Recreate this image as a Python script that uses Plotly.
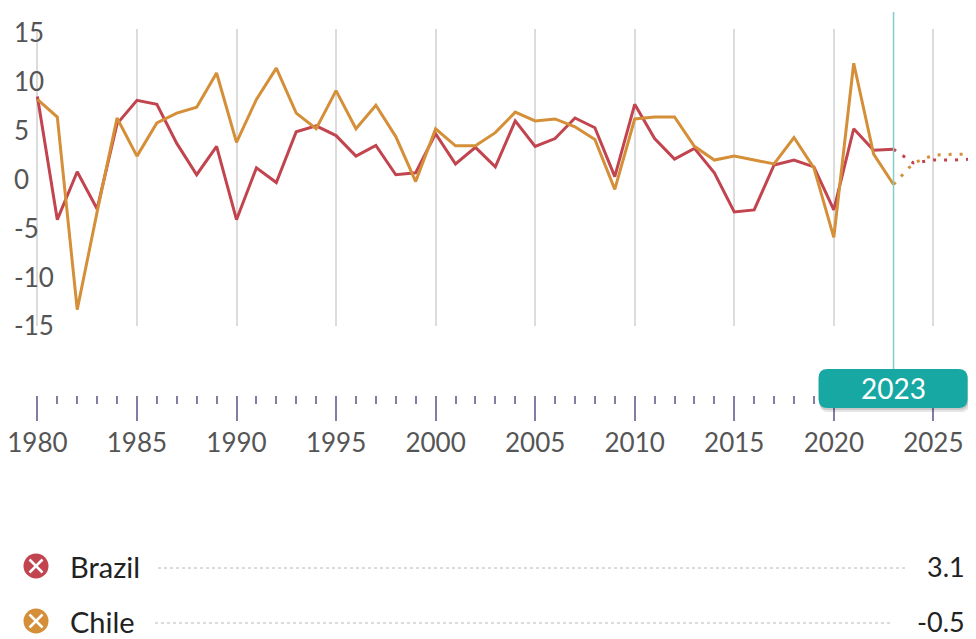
import plotly.graph_objects as go

W, H = 976, 639
OFF = 8  # page body margin offset

# ---------------- data ----------------
years = list(range(1980, 2024))
brazil = [8.5, -4.1, 0.8, -3.0, 5.7, 8.1, 7.7, 3.7, 0.5, 3.4,
          -4.1, 1.2, -0.3, 4.9, 5.5, 4.5, 2.4, 3.5, 0.5, 0.7,
          4.7, 1.6, 3.3, 1.3, 6.0, 3.4, 4.2, 6.3, 5.3, 0.3,
          7.7, 4.2, 2.1, 3.2, 0.7, -3.3, -3.1, 1.5, 2.0, 1.3,
          -3.1, 5.2, 3.0, 3.1]
chile = [8.2, 6.4, -13.3, -3.3, 6.3, 2.4, 5.8, 6.8, 7.4, 10.9,
         3.8, 8.2, 11.4, 6.8, 5.2, 9.1, 5.2, 7.6, 4.4, -0.2,
         5.2, 3.45, 3.45, 4.8, 6.9, 6.0, 6.2, 5.4, 4.1, -1.0,
         6.2, 6.4, 6.4, 3.4, 2.0, 2.4, 2.0, 1.6, 4.3, 1.2,
         -5.9, 11.9, 2.6, -0.5]
proj_years = [2023, 2024, 2025, 2026, 2027]
brazil_proj = [3.1, 1.7, 2.0, 2.0, 2.1]
chile_proj = [-0.5, 1.7, 2.5, 2.6, 2.6]

countries = ["Brazil", "Chile"]
latest_labels = ["3.1", "-0.5"]
colors = ["#c1444f", "#d48f38"]
y_ticks = [-15, -10, -5, 0, 5, 10, 15]
y_ticktext = [str(v) for v in y_ticks]
timeline_major = list(range(1980, 2030, 5))
timeline_minor = list(range(1980, 2028))
selected_year = 2023

# ---------------- layout helpers ----------------
PX_PER_YEAR = 19.91
X1980 = 37.4  # page pixel of 1980
x_range = [1980 - (X1980 - OFF) / PX_PER_YEAR, 1980 + (W + OFF - X1980) / PX_PER_YEAR]
y_range = [-15, 15.4]
FONT = "Lato"


def px(x):
    return (x - OFF) / W


def py(y):
    return 1 - (y - OFF) / H


def year_px(yr):
    return X1980 + (yr - 1980) * PX_PER_YEAR


fig = go.Figure()

series = [(brazil, brazil_proj), (chile, chile_proj)]
for name, (vals, proj), color in zip(countries, series, colors):
    fig.add_trace(go.Scatter(x=years, y=vals, mode="lines", name=name,
                             line=dict(color=color, width=3),
                             hoverinfo="skip", showlegend=False))
    fig.add_trace(go.Scatter(x=proj_years, y=proj, mode="lines", name=name + " projection",
                             line=dict(color=color, width=3, dash="3px,8px"),
                             hoverinfo="skip", showlegend=False))

# invisible trace to activate timeline axis
fig.add_trace(go.Scatter(x=[years[0]], y=[0], xaxis="x2", yaxis="y", mode="markers",
                         marker=dict(opacity=0), hoverinfo="skip", showlegend=False))

tick_color = "#827da6"
fig.update_layout(
    width=W, height=H,
    margin=dict(l=0, r=0, t=0, b=0, autoexpand=False),
    paper_bgcolor="white", plot_bgcolor="white",
    hovermode=False,
    font=dict(family=FONT),
    xaxis=dict(domain=[0, 1], range=x_range, tickmode="array", tickvals=timeline_major,
               showgrid=True, gridcolor="#dcdcdc", gridwidth=1.5,
               showticklabels=False, ticks="", zeroline=False, showline=False,
               automargin=False, fixedrange=True),
    yaxis=dict(domain=[py(326.3), py(29)], range=y_range,
               tickmode="array", tickvals=y_ticks, ticktext=y_ticktext,
               ticklabelposition="inside", ticklabeloverflow="allow",
               ticklabelstandoff=3,
               tickfont=dict(size=26, color="#555555", family=FONT),
               showgrid=False, zeroline=False, showline=False, ticks="",
               automargin=False, fixedrange=True),
    xaxis2=dict(overlaying="x", anchor="free", position=py(395), side="bottom",
                range=x_range, tickmode="array", tickvals=timeline_major,
                ticks="outside", ticklen=25, tickwidth=2, tickcolor=tick_color,
                tickfont=dict(size=26, color="#555555", family=FONT),
                ticklabeloverflow="allow",
                showgrid=False, zeroline=False, showline=False,
                minor=dict(tickmode="array", tickvals=timeline_minor, ticks="outside",
                           ticklen=8, tickwidth=1.6, tickcolor=tick_color, showgrid=False),
                automargin=False, fixedrange=True),
)

shapes = []
cx = year_px(selected_year)
# teal selection line
shapes.append(dict(type="line", xref="x", yref="paper", x0=selected_year, x1=selected_year,
                   y0=py(12), y1=py(372), line=dict(color="#86cdc9", width=1.5), layer="above"))


def rounded_rect(x0, y0, x1, y1, r):
    pts = [("M", x0 + r, y0), ("L", x1 - r, y0), ("Q", x1, y0, x1, y0 + r),
           ("L", x1, y1 - r), ("Q", x1, y1, x1 - r, y1), ("L", x0 + r, y1),
           ("Q", x0, y1, x0, y1 - r), ("L", x0, y0 + r), ("Q", x0, y0, x0 + r, y0)]
    out = []
    for p in pts:
        cmd = p[0]
        coords = p[1:]
        seg = cmd + " " + " ".join(f"{px(coords[i])},{py(coords[i + 1])}"
                                   for i in range(0, len(coords), 2))
        out.append(seg)
    return " ".join(out) + " Z"


bx0, bx1, by0, by1 = cx - 75, cx + 74, 369, 408
shapes.append(dict(type="path", xref="paper", yref="paper",
                   path=rounded_rect(bx0 + 1, by0 + 4, bx1 + 2, by1 + 4, 9),
                   fillcolor="rgba(0,0,0,0.10)", line=dict(width=0), layer="above"))
shapes.append(dict(type="path", xref="paper", yref="paper",
                   path=rounded_rect(bx0 + 0.5, by0 + 2, bx1 + 1, by1 + 2, 9),
                   fillcolor="rgba(0,0,0,0.12)", line=dict(width=0), layer="above"))
shapes.append(dict(type="path", xref="paper", yref="paper",
                   path=rounded_rect(bx0, by0, bx1, by1, 9),
                   fillcolor="#17a8a4", line=dict(width=0), layer="above"))

annotations = [dict(x=px(cx), y=py(388), xref="paper", yref="paper", text=str(selected_year),
                    showarrow=False, xanchor="center", yanchor="middle",
                    font=dict(size=28, color="white", family=FONT))]

# legend rows
row_y = [566, 621]
leader = [(158, 908), (155, 890)]
for name, label, color, ry, (lx0, lx1) in zip(countries, latest_labels, colors, row_y, leader):
    shapes.append(dict(type="circle", xref="paper", yref="paper",
                       xsizemode="pixel", ysizemode="pixel",
                       xanchor=px(36), yanchor=py(ry), x0=-12.5, x1=12.5, y0=-12.5, y1=12.5,
                       fillcolor=color, line=dict(width=0)))
    for sgn in (1, -1):
        shapes.append(dict(type="line", xref="paper", yref="paper",
                           xsizemode="pixel", ysizemode="pixel",
                           xanchor=px(36), yanchor=py(ry), x0=-6.5, x1=6.5,
                           y0=-6.5 * sgn, y1=6.5 * sgn,
                           line=dict(color="white", width=2.5)))
    shapes.append(dict(type="line", xref="paper", yref="paper",
                       x0=px(lx0), x1=px(lx1), y0=py(ry + 2), y1=py(ry + 2),
                       line=dict(color="#b8b8b8", width=1, dash="dot")))
    annotations.append(dict(x=px(68), y=py(ry), xref="paper", yref="paper", text=name,
                            showarrow=False, xanchor="left", yanchor="middle",
                            font=dict(size=29, color="#222222", family=FONT)))
    annotations.append(dict(x=px(967), y=py(ry), xref="paper", yref="paper", text=label,
                            showarrow=False, xanchor="right", yanchor="middle",
                            font=dict(size=27, color="#222222", family=FONT)))

fig.update_layout(shapes=shapes, annotations=annotations)

fig.write_html("out.html")
